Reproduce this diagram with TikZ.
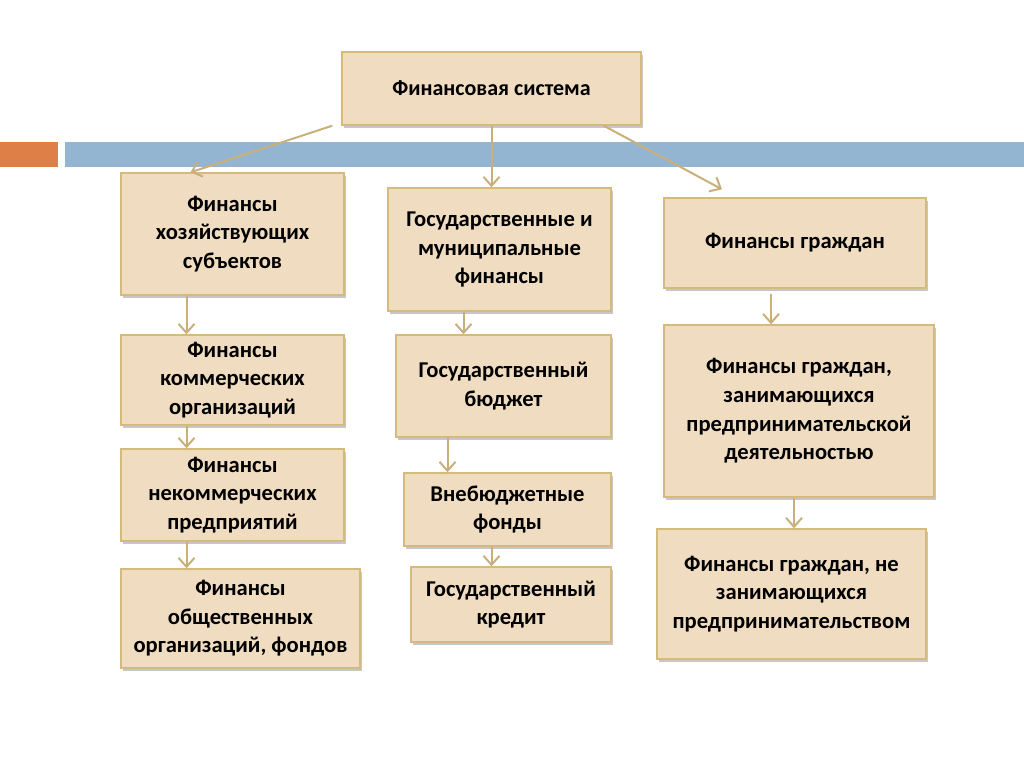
\documentclass[tikz,border=0pt]{standalone}
\usepackage{fontspec}
\setmainfont{Carlito}
\usepackage{xcolor}
\usetikzlibrary{arrows.meta,positioning,calc,shadows}

\definecolor{boxfill}{HTML}{F0DDC1}
\definecolor{boxline}{HTML}{D5BA7E}
\definecolor{linkcol}{HTML}{C9B07A}
\definecolor{barblue}{HTML}{94B5D1}
\definecolor{barorange}{HTML}{DE7F48}

\begin{document}
\begin{tikzpicture}[
    x=0.5pt, y=-0.5pt,
    font=\fontsize{11.3}{14.3}\selectfont\bfseries,
    box/.style={draw=boxline, fill=boxfill, line width=0.7pt, align=center,
                inner sep=2pt,
                drop shadow={shadow xshift=1.2pt, shadow yshift=-1.5pt,
                             fill=black, opacity=0.22}},
    link/.style={draw=linkcol, line width=1pt,
                 -{Straight Barb[length=4.5pt,width=8pt]}},
]
\useasboundingbox (0,0) rectangle (1024,767);

% --- decorative bar behind the top level ---
\fill[barorange] (0,142) rectangle (58,167);
\fill[barblue]   (65,142) rectangle (1024,167);

% --- top level ---
\node[box, minimum width=149.5pt, minimum height=36.5pt,
      font=\fontsize{11}{13}\selectfont\bfseries] (sys) at (491.5,88.5) {Финансовая система};

% --- second level: three branches ---
\node[box, minimum width=111.5pt, minimum height=61pt]   (hoz)   at (232.5,234)   {Финансы\\хозяйствующих\\субъектов};
\node[box, minimum width=111.5pt, minimum height=61.5pt] (gos)   at (499.5,249.5) {Государственные и\\муниципальные\\финансы};
\node[box, minimum width=131pt,   minimum height=45pt]   (grazh) at (795,243)     {Финансы граждан};

% --- left column ---
\node[box, minimum width=111.5pt, minimum height=45pt]   (kom)   at (232.5,380)   {Финансы\\коммерческих\\организаций};
\node[box, minimum width=111.5pt, minimum height=46pt]   (nekom) at (232.5,495)   {Финансы\\некоммерческих\\предприятий};
\node[box, minimum width=119.5pt, minimum height=49.5pt] (obsh)  at (240.5,618.5) {Финансы\\общественных\\организаций, фондов};

% --- middle column ---
\node[box, minimum width=107.5pt, minimum height=51pt]   (byud)  at (503.5,386)   {Государственный\\бюджет};
\node[box, minimum width=103.5pt, minimum height=36.5pt] (vneb)  at (507.5,509.5) {Внебюджетные\\фонды};
\node[box, minimum width=100pt,   minimum height=37.5pt] (kred)  at (511,604.5)   {Государственный\\кредит};

% --- right column ---
\node[box, minimum width=135pt,   minimum height=86pt]   (pred)   at (799,411)    {Финансы граждан,\\занимающихся\\предпринимательской\\деятельностью};
\node[box, minimum width=134.5pt, minimum height=65pt]   (nepred) at (791.5,594)  {Финансы граждан, не\\занимающихся\\предпринимательством};

% --- links from the top box ---
\draw[link] ([xshift=-4.5pt]sys.south west) -- ([xshift=-21pt]hoz.north);
\draw[link] (sys.south) -- (sys.south |- gos.north);
\draw[link] ([xshift=-19pt]sys.south east) -- ([xshift=-36.5pt,yshift=4pt]grazh.north);

% --- links down the columns ---
\draw[link] ([xshift=-23pt]hoz.south)   -- ([xshift=-23pt]kom.north);
\draw[link] ([xshift=-23pt]kom.south)   -- ([xshift=-23pt]nekom.north);
\draw[link] ([xshift=-23pt]nekom.south) -- ([xshift=-23pt]nekom.south |- obsh.north);
\draw[link] ([xshift=-18pt]gos.south)   -- ([xshift=-18pt]gos.south |- byud.north);
\draw[link] ([xshift=-28pt]byud.south)  -- ([xshift=-28pt]byud.south |- vneb.north);
\draw[link] ([xshift=-8pt]vneb.south)   -- ([xshift=-8pt]vneb.south |- kred.north);
\draw[link] ([xshift=-12pt,yshift=-2.5pt]grazh.south) -- ([xshift=-12pt]grazh.south |- pred.north);
\draw[link] ([xshift=-2.5pt]pred.south) -- ([xshift=-2.5pt]pred.south |- nepred.north);
\end{tikzpicture}
\end{document}
